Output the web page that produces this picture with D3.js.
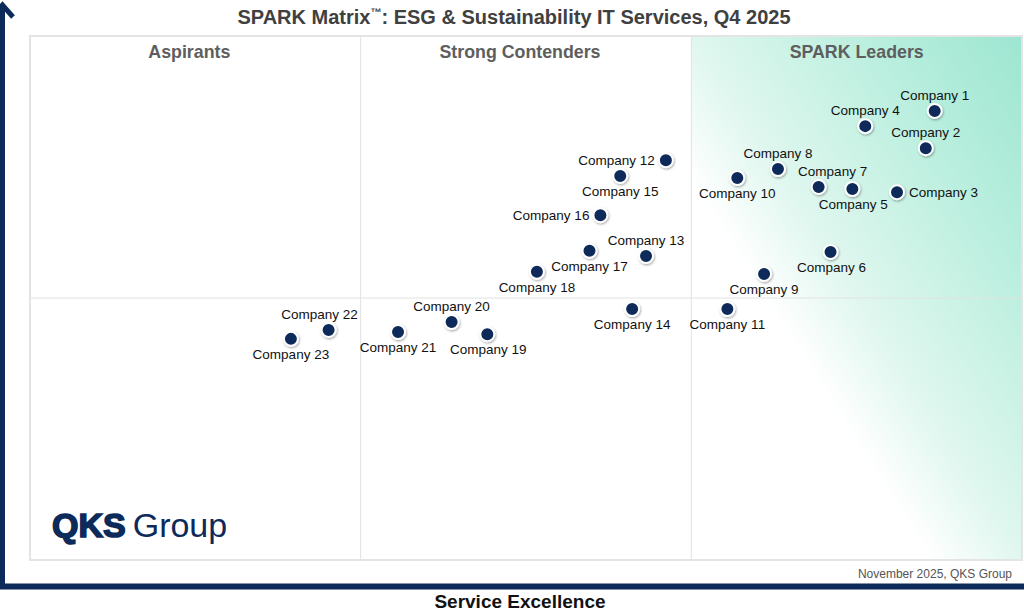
<!DOCTYPE html>
<html>
<head>
<meta charset="utf-8">
<script src="https://cdn.jsdelivr.net/npm/d3@7"></script>
<style>
  body { margin: 0; background: #fff; }
  svg { display: block; font-family: "Liberation Sans", Arial, sans-serif; }
</style>
</head>
<body>
<svg id="matrix" width="1024" height="615"></svg>
<script>
// data (0-100 on both axes)
var companies = ["Company 1","Company 2","Company 3","Company 4","Company 5","Company 6","Company 7","Company 8",
  "Company 9","Company 10","Company 11","Company 12","Company 13","Company 14","Company 15","Company 16",
  "Company 17","Company 18","Company 19","Company 20","Company 21","Company 22","Company 23"];
var serviceExcellence = [91.2, 90.3, 87.4, 84.2, 82.9, 80.7, 79.5, 75.4, 74.0, 71.3, 70.3, 64.1, 62.1, 60.7,
  59.5, 57.5, 56.4, 51.1, 46.1, 42.5, 37.1, 30.1, 26.3];
var technologyExcellence = [85.7, 78.6, 70.2, 82.8, 70.8, 58.8, 71.2, 74.6, 54.6, 72.9, 47.9, 76.3, 58.0, 47.9,
  73.3, 65.8, 59.0, 55.0, 43.1, 45.4, 43.5, 43.9, 42.2];
var labelSide = ["top","top","right","top","bottom","bottom","top","top","bottom","bottom","bottom","left",
  "top","bottom","bottom","left","bottom","bottom","bottom","top","bottom","top","bottom"];
var labelShift = [0,0,0,0,1,1,14,0,0,0,0,0,0,0,0,0,0,0,1,0,0,-9,0];
var quadrants = ["Aspirants", "Strong Contenders", "SPARK Leaders"];

var svg = d3.select("#matrix");
var margin = ({top: 36, right: 2, bottom: 55, left: 30});
var width = 1024, height = 615;
var navy = "#0c2a5a";

var x = d3.scaleLinear().domain([0, 100]).range([margin.left, width - margin.right]);
var y = d3.scaleLinear().domain([0, 100]).range([height - margin.bottom, margin.top]);

var defs = svg.append("defs");
var grad = defs.append("linearGradient")
    .attr("id", "leaderFill")
    .attr("x1", 1).attr("y1", 0)
    .attr("x2", 0).attr("y2", 1);
grad.append("stop").attr("offset", 0).attr("stop-color", "#9de6d1");
grad.append("stop").attr("offset", 0.25).attr("stop-color", "#bcefdf");
grad.append("stop").attr("offset", 0.5).attr("stop-color", "#e0f7ef");
grad.append("stop").attr("offset", 0.64).attr("stop-color", "#ffffff");
grad.append("stop").attr("offset", 1).attr("stop-color", "#ffffff");

var shadow = defs.append("filter").attr("id", "dotShadow")
    .attr("x", "-50%").attr("y", "-50%").attr("width", "200%").attr("height", "200%");
shadow.append("feDropShadow").attr("dx", 0.8).attr("dy", 1.2).attr("stdDeviation", 1)
    .attr("flood-color", "#000").attr("flood-opacity", 0.35);

// leaders column
svg.append("rect")
    .attr("x", x(200 / 3)).attr("y", y(100))
    .attr("width", x(100) - x(200 / 3)).attr("height", y(0) - y(100))
    .attr("fill", "url(#leaderFill)");

// plot frame + quadrant lines
svg.append("rect")
    .attr("x", x(0)).attr("y", y(100))
    .attr("width", x(100) - x(0)).attr("height", y(0) - y(100))
    .attr("fill", "none").attr("stroke", "#e4e4e4").attr("stroke-width", 2);

svg.append("g").attr("stroke", "#e2e2e2").attr("stroke-width", 1)
  .selectAll("line")
  .data([100 / 3, 200 / 3])
  .join("line")
    .attr("x1", d => x(d)).attr("x2", d => x(d))
    .attr("y1", y(100)).attr("y2", y(0));

svg.append("line")
    .attr("x1", x(0)).attr("x2", x(100))
    .attr("y1", y(50)).attr("y2", y(50))
    .attr("stroke", "#e2e2e2");

// quadrant titles
svg.append("g")
    .attr("fill", "#5e5e5e")
    .attr("text-anchor", "middle")
    .style("font", "bold 17.8px 'Liberation Sans', Arial, sans-serif")
  .selectAll("text")
  .data(quadrants)
  .join("text")
    .attr("x", (d, i) => x((i + 0.5) * 100 / 3) - (i < 2 ? 6 : 0))
    .attr("y", y(100) + 22)
    .text(d => d);

// title
var title = svg.append("text")
    .attr("x", 514).attr("y", 24)
    .attr("text-anchor", "middle")
    .attr("fill", "#404040")
    .style("font", "bold 20px 'Liberation Sans', Arial, sans-serif");
title.append("tspan").text("SPARK Matrix");
title.append("tspan").attr("font-size", "11px").attr("dy", -8).text("™");
title.append("tspan").attr("dy", 8).text(": ESG & Sustainability IT Services, Q4 2025");

// axes (left arrow, bottom bar)
svg.append("path")
    .attr("d", "M2.5,588 L2.5,6 M-8,17 L2.5,5 L13,17")
    .attr("fill", "none").attr("stroke", navy).attr("stroke-width", 5);
svg.append("line")
    .attr("x1", 0).attr("x2", width)
    .attr("y1", 586.5).attr("y2", 586.5)
    .attr("stroke", navy).attr("stroke-width", 6);

svg.append("text")
    .attr("x", 520).attr("y", 608)
    .attr("text-anchor", "middle")
    .attr("fill", "#111")
    .style("font", "bold 19px 'Liberation Sans', Arial, sans-serif")
    .text("Service Excellence");

svg.append("text")
    .attr("x", 1012).attr("y", 578)
    .attr("text-anchor", "end")
    .attr("fill", "#555")
    .style("font", "12px 'Liberation Sans', Arial, sans-serif")
    .text("November 2025, QKS Group");

// logo
var logo = svg.append("text")
    .attr("x", 52).attr("y", 537)
    .attr("fill", navy)
    .style("font-family", "'Liberation Sans', Arial, sans-serif")
    .style("font-size", "34px");
logo.append("tspan").attr("font-weight", "bold").attr("stroke", navy).attr("stroke-width", 1.6)
    .attr("letter-spacing", "0").text("QKS");
logo.append("tspan").attr("dx", 7).text("Group");

// points
var data = companies.map((name, i) => ({
  name: name, sx: serviceExcellence[i], tx: technologyExcellence[i],
  side: labelSide[i], shift: labelShift[i]
}));

svg.append("g")
  .selectAll("circle")
  .data(data)
  .join("circle")
    .attr("cx", d => x(d.sx))
    .attr("cy", d => y(d.tx))
    .attr("r", 7)
    .attr("fill", navy)
    .attr("stroke", "#fff")
    .attr("stroke-width", 2)
    .attr("filter", "url(#dotShadow)");

svg.append("g")
    .attr("fill", "#111")
    .style("font", "13.5px 'Liberation Sans', Arial, sans-serif")
  .selectAll("text")
  .data(data)
  .join("text")
    .attr("x", d => {
      if (d.side == "left") return x(d.sx) - 11;
      if (d.side == "right") return x(d.sx) + 12;
      return x(d.sx) + d.shift;
    })
    .attr("y", d => {
      if (d.side == "top") return y(d.tx) - 11;
      if (d.side == "bottom") return y(d.tx) + 20;
      return y(d.tx) + 5;
    })
    .attr("text-anchor", d => d.side == "left" ? "end" : d.side == "right" ? "start" : "middle")
    .text(d => d.name);
</script>
</body>
</html>
